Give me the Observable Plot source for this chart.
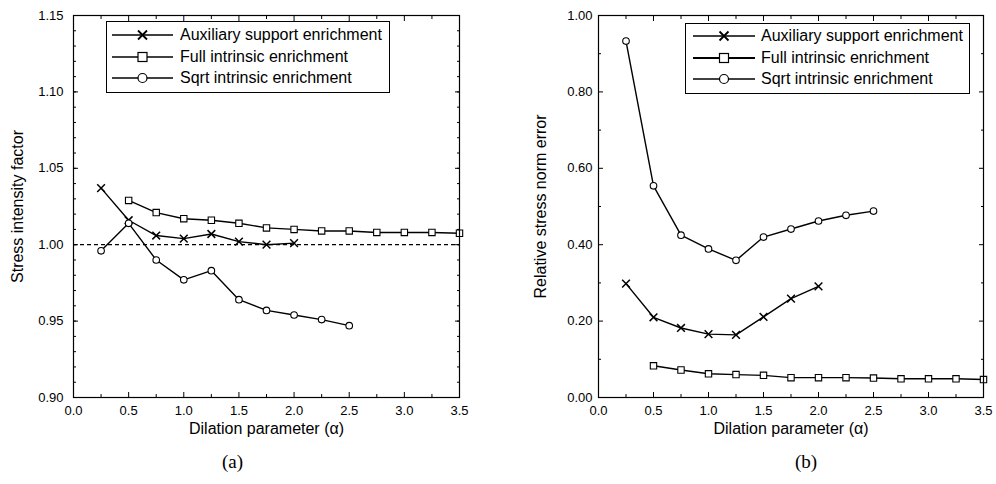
<!DOCTYPE html>
<html><head><meta charset="utf-8">
<script src="https://cdn.jsdelivr.net/npm/d3@7"></script>
<script src="https://cdn.jsdelivr.net/npm/@observablehq/plot@0.6"></script>
<style>
body{margin:0;background:#fff;font-family:"Liberation Sans",Arial,sans-serif;}
#wrap{position:relative;width:996px;height:484px;display:flex;}
.legend{position:absolute;border:1px solid #000;background:#fff;font-size:16px;color:#000;box-sizing:border-box;}
.legend .row{position:absolute;left:0;height:18px;display:flex;align-items:center;white-space:nowrap;}
.legend svg{display:block;flex-shrink:0;}
</style></head><body><div id="wrap"></div>
<script>
const alphaAux  = [0.25,0.5,0.75,1.0,1.25,1.5,1.75,2.0];
const alphaFull = [0.5,0.75,1.0,1.25,1.5,1.75,2.0,2.25,2.5,2.75,3.0,3.25,3.5];
const alphaSqrt = [0.25,0.5,0.75,1.0,1.25,1.5,1.75,2.0,2.25,2.5];

const sifAux  = [1.037,1.016,1.006,1.004,1.007,1.002,1.000,1.001];
const sifFull = [1.029,1.021,1.017,1.016,1.014,1.011,1.010,1.009,1.009,1.008,1.008,1.008,1.0075];
const sifSqrt = [0.996,1.014,0.990,0.977,0.983,0.964,0.957,0.954,0.951,0.947];

const errAux  = [0.298,0.210,0.182,0.166,0.164,0.211,0.259,0.291];
const errFull = [0.083,0.072,0.062,0.060,0.058,0.052,0.052,0.052,0.051,0.049,0.049,0.049,0.047];
const errSqrt = [0.933,0.554,0.425,0.389,0.359,0.420,0.441,0.462,0.477,0.488];

const seriesNames = ["Auxiliary support enrichment","Full intrinsic enrichment","Sqrt intrinsic enrichment"];
const xTicks = [0,0.5,1.0,1.5,2.0,2.5,3.0,3.5];
const xMinor = [0.25,0.75,1.25,1.75,2.25,2.75,3.25];
const sifTicks = [0.90,0.95,1.00,1.05,1.10,1.15];
const sifMinor = d3.range(0.90,1.1501,0.01);
const errTicks = [0,0.2,0.4,0.6,0.8,1.0];
const errMinor = [0.1,0.3,0.5,0.7,0.9];
const xLabel = "Dilation parameter (\u03b1)";

const FONT = '"Liberation Sans", Arial, sans-serif';

function zip(xs, ys){ return xs.map((x,i)=>({x, y: ys[i]})); }

function panel(o){
  const aux = zip(alphaAux, o.aux), full = zip(alphaFull, o.full), sq = zip(alphaSqrt, o.sqrt);
  const marks = [];
  if (o.refLine != null) marks.push(Plot.ruleY([o.refLine], {stroke:"#000", strokeWidth:1.2, strokeDasharray:"4,3"}));
  for (const s of [aux, full, sq]) marks.push(Plot.line(s, {x:"x", y:"y", stroke:"#000", strokeWidth:1.4}));
  marks.push(
    Plot.dot(aux, {x:"x", y:"y", symbol:"times", r:3.6, stroke:"#000", strokeWidth:1.5}),
    Plot.dot(full, {x:"x", y:"y", symbol:"square", r:3.6, stroke:"#000", fill:"#fff", strokeWidth:1.1}),
    Plot.dot(sq, {x:"x", y:"y", symbol:"circle", r:3.3, stroke:"#000", fill:"#fff", strokeWidth:1.1}),
    Plot.frame({stroke:"#000", strokeWidth:1.2}),
    Plot.axisX(xTicks, {anchor:"bottom", tickSize:-5, text:null, label:null}),
    Plot.axisX(xMinor, {anchor:"bottom", tickSize:-3, text:null, label:null}),
    Plot.axisX(xTicks, {anchor:"top", tickSize:-5, text:null, label:null}),
    Plot.axisX(xMinor, {anchor:"top", tickSize:-3, text:null, label:null}),
    Plot.axisY(o.yTicks, {anchor:"left", tickSize:-5, text:null, label:null}),
    Plot.axisY(o.yMinor, {anchor:"left", tickSize:-3, text:null, label:null}),
    Plot.axisY(o.yTicks, {anchor:"right", tickSize:-5, text:null, label:null}),
    Plot.axisY(o.yMinor, {anchor:"right", tickSize:-3, text:null, label:null}),
    Plot.axisX(xTicks, {anchor:"bottom", tickSize:0, tickPadding:8, tickFormat:d3.format(".1f"), label:null, fontSize:13}),
    Plot.axisY(o.yTicks, {anchor:"left", tickSize:0, tickPadding:o.yPad, tickFormat:d3.format(".2f"), label:null, fontSize:13}),
    Plot.text([o.yLabel], {frameAnchor:"left", textAnchor:"middle", rotate:-90, dx:o.yLabelDx, text:d=>d, fontSize:16}),
    Plot.text([xLabel], {frameAnchor:"bottom", textAnchor:"middle", dy:36, text:d=>d, fontSize:16}),
    Plot.text([o.caption], {frameAnchor:"bottom", textAnchor:"middle", dy:70, dx:o.capDx, text:d=>d, fontSize:19, fontFamily:'"Liberation Serif", "DejaVu Serif", serif'})
  );
  return Plot.plot({
    width:o.width, height:484,
    marginTop:15, marginBottom:87, marginLeft:o.ml, marginRight:o.mr,
    x:{domain:[0,3.5]},
    y:{domain:o.yDomain},
    style:{fontFamily:FONT, color:"#000", background:"#fff", overflow:"visible"},
    marks
  });
}

const wrap = document.getElementById("wrap");
wrap.appendChild(panel({width:490, ml:73, mr:31, yDomain:[0.90,1.15], yTicks:sifTicks, yMinor:sifMinor, yPad:10,
  yLabel:"Stress intensity factor", yLabelDx:-56, aux:sifAux, full:sifFull, sqrt:sifSqrt, refLine:1.0, caption:"(a)", capDx:-34}));
wrap.appendChild(panel({width:506, ml:108, mr:13, yDomain:[0,1.0], yTicks:errTicks, yMinor:errMinor, yPad:6,
  yLabel:"Relative stress norm error", yLabelDx:-58, aux:errAux, full:errFull, sqrt:errSqrt, refLine:null, caption:"(b)", capDx:15}));

function legend(left, top, w, h, lineX0, lineX1, textX, rows, thick){
  const div = document.createElement("div");
  div.className = "legend";
  Object.assign(div.style, {left:left+"px", top:top+"px", width:w+"px", height:h+"px"});
  const syms = ["times","square","circle"];
  seriesNames.forEach((name,i)=>{
    const row = document.createElement("div");
    row.className = "row";
    row.style.top = (rows[i]-top-9)+"px";
    const sw = textX - left - 1;
    const cx = (lineX0+lineX1)/2 - left - 1;
    let sym = "";
    if (syms[i]==="times") sym = `<path d="M${cx-4.5},4.5 L${cx+4.5},13.5 M${cx-4.5},13.5 L${cx+4.5},4.5" stroke="#000" stroke-width="1.8"/>`;
    if (syms[i]==="square") sym = `<rect x="${cx-4.5}" y="4.5" width="9" height="9" fill="#fff" stroke="#000" stroke-width="1.2"/>`;
    if (syms[i]==="circle") sym = `<circle cx="${cx}" cy="9" r="4.5" fill="#fff" stroke="#000" stroke-width="1.2"/>`;
    const lw = (thick && i===1) ? 2.2 : 1.3;
    row.innerHTML = `<svg width="${sw}" height="18"><line x1="${lineX0-left-1}" x2="${lineX1-left-1}" y1="9" y2="9" stroke="#000" stroke-width="${lw}"/>${sym}</svg><span>${name}</span>`;
    div.appendChild(row);
  });
  wrap.appendChild(div);
}
legend(106, 21, 284, 72, 112, 173, 180, [34,56,77], false);
legend(685, 23, 285, 71, 693, 755, 761, [35,57,78], true);
</script>
</body></html>
